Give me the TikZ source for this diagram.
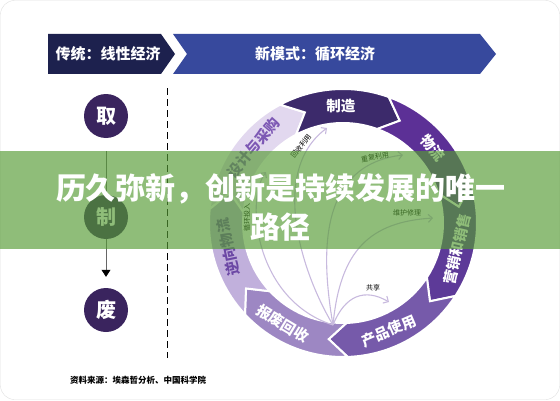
\documentclass[tikz,border=0pt]{standalone}
\usepackage{fontspec}
\setmainfont{Noto Sans CJK SC}
\usetikzlibrary{arrows.meta}
\definecolor{navy}{RGB}{29,33,78}
\definecolor{royal}{RGB}{55,73,157}
\definecolor{stagepurple}{RGB}{58,36,94}
\definecolor{sjcg}{RGB}{226,216,239}
\definecolor{zz}{RGB}{60,42,107}
\definecolor{wl}{RGB}{92,48,150}
\definecolor{yx}{RGB}{93,58,152}
\definecolor{cpsy}{RGB}{118,90,170}
\definecolor{bfhs}{RGB}{157,135,195}
\definecolor{nxwl}{RGB}{193,176,220}
\definecolor{sjcgtext}{RGB}{125,88,180}
\definecolor{nxwltext}{RGB}{108,72,165}
\definecolor{fanpurple}{RGB}{200,186,222}
\definecolor{banner}{RGB}{85,155,52}
\begin{document}
\begin{tikzpicture}[x=1pt,y=1pt,
    headtext/.style={text=white,inner sep=0pt,font=\bfseries\fontsize{15}{15}\selectfont},
    stage/.style={circle,fill=stagepurple,minimum size=44pt,inner sep=0pt,text=white,font=\bfseries\fontsize{20}{20}\selectfont},
    seglabel/.style={inner sep=0pt,font=\bfseries\fontsize{14.5}{14.5}\selectfont},
    fanarrow/.style={draw=fanpurple,line width=1.1pt,-{Straight Barb[length=4pt,width=8pt]}},
    fanlabel/.style={inner sep=0pt,font=\fontsize{7}{7}\selectfont}]
\useasboundingbox (0,0) rectangle (560,400);
\draw[gray!25, rounded corners=14pt] (0.5,0.5) rectangle (559.5,399.5);

% header bands
\fill[navy] (48,326) -- (48,366) -- (161,366) -- (175,346) -- (161,326) -- cycle;
\fill[royal] (173,326) -- (187,346) -- (173,366) -- (480,366) -- (496,346) -- (480,326) -- cycle;
\node[headtext] (old) at (108,346) {传统：线性经济};
\node[headtext] (new) at (315,346) {新模式：循环经济};

% linear economy
\node[stage] (qu) at (106,284) {取};
\node[stage] (zhi) at (106,183) {制};
\node[stage] (fei) at (106,90) {废};
\draw[black!60, line width=.8pt, shorten <=13pt] (qu) -- (zhi);
\draw[black!60, line width=.8pt, shorten >=11pt, -{Triangle[length=7pt,width=9pt,color=black]}] (zhi) -- (fei);
\draw[dash pattern=on 7pt off 4pt, line width=.7pt] (167,312) -- (167,42);

% circular economy ring
\begin{scope}[shift={(343,177)}]
\foreach \a/\b/\col in {174/118/sjcg,118/70/zz,70/17/wl,17/-33/yx,-33/-88/cpsy,-88/-137/bfhs,-137/-186/nxwl}
  \filldraw[fill=\col, draw=white, line width=2pt] (\a:134) arc[start angle=\a, end angle=\b, radius=134]
    -- ({\b-9}:117) -- (\b:100) arc[start angle=\b, end angle=\a, radius=100] -- ({\a-9}:117) -- cycle;
\foreach \ang/\rot/\txt/\tc [count=\i] in {140/50/设计与采购/sjcgtext, 91/0/制造/white, 40/-50/物流/white,
    -13/77/营销和销售/white, -67/23/产品使用/white, -121/-31/报废回收/white, -168/102/逆向物流/nxwltext}
  \node[seglabel, text=\tc, rotate=\rot] (seg\i) at (\ang:117) {\txt};
\end{scope}

% inner loops
\coordinate (fan) at (333,75);
\coordinate (xhtr) at (266,228);
\coordinate (hsly) at (327,272);
\coordinate (cfly) at (403,245);
\coordinate (whxl) at (433,182);
\coordinate (gx) at (389,98);
\draw[fanarrow] (fan) .. controls (255,100) and (245,200) .. (xhtr);
\draw[fanarrow] (fan) .. controls (300,130) and (270,230) .. (hsly);
\draw[fanarrow] (fan) .. controls (320,150) and (320,235) .. (cfly);
\draw[fanarrow] (fan) .. controls (340,150) and (370,178) .. (whxl);
\draw[fanarrow] (fan) .. controls (345,105) and (365,112) .. (gx);
\node[fanlabel, rotate=90] (lxhtr) at (247,183) {循环投入};
\node[fanlabel, rotate=52] (lhsly) at (301,254) {回收利用};
\node[fanlabel, rotate=10] (lcfly) at (375,243) {重复利用};
\node[fanlabel] (lwhxl) at (407,187) {维护修理};
\node[fanlabel] (lgx) at (373,112) {共享};

% overlay banner
\fill[banner, opacity=.66] (0,151) rectangle (560,249);
\node[text=white, align=center, inner sep=0pt, font=\bfseries\fontsize{30}{39}\selectfont] (title) at (281,193) {历久弥新，创新是持续发展的唯一\\路径};

\node[anchor=west, inner sep=0pt, font=\bfseries\fontsize{8.5}{8.5}\selectfont] (src) at (70,20) {资料来源：埃森哲分析、中国科学院};
\end{tikzpicture}
\end{document}
